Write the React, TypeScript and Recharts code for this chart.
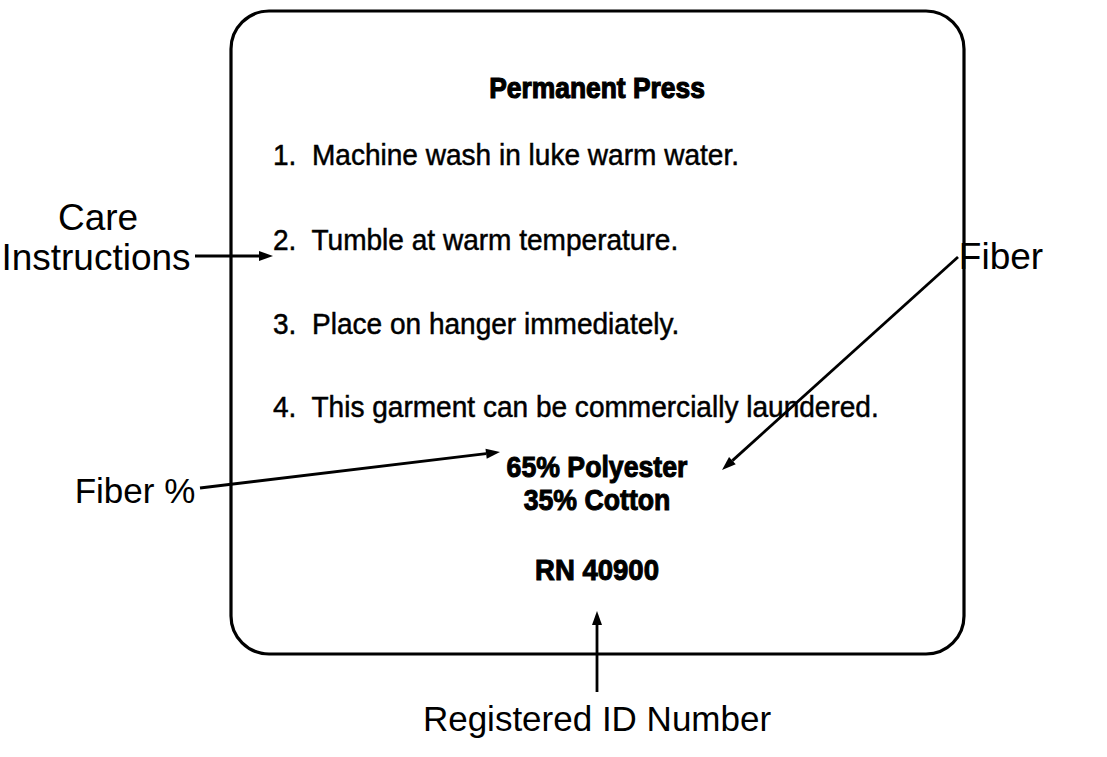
import React from 'react';
import {
  ScatterChart,
  Scatter,
  XAxis,
  YAxis,
  ReferenceLine,
  ReferenceArea,
} from 'recharts';

// label content
const titleText = ['Permanent Press'];
const careSteps = [
  '1.  Machine wash in luke warm water.',
  '2.  Tumble at warm temperature.',
  '3.  Place on hanger immediately.',
  '4.  This garment can be commercially laundered.',
];
const fiberContent = ['65% Polyester', '35% Cotton'];
const registeredId = ['RN 40900'];
const upperCallouts = ['Care', 'Instructions', 'Fiber'];
const lowerCallouts = ['Fiber %', 'Registered ID Number'];

// where things sit on the page (diagram units = pixels)
const titleRows = [87];
const stepX = 273;
const stepRows = [155, 240, 324, 407];
const centerX = 597;
const fiberRows = [467, 500];
const idRows = [570];
const upperX = [98, 96, 1001];
const upperY = [217, 257, 256];
const lowerX = [135, 597];
const lowerY = [490, 718];

// arrows: [x1, y1, x2, y2]
const arrowSegments = [
  [195, 256, 273, 256],
  [958, 257, 722, 470],
  [200, 488, 500, 452],
  [597, 692, 597, 611],
];
const labelBox = [231, 11, 964, 654];

const W = 1107;
const H = 757;

const SANS = '"Liberation Sans", Arial, Helvetica, sans-serif';

const titleData = titleText.map((t, i) => ({ x: centerX, y: titleRows[i], t }));
const stepData = careSteps.map((t, i) => ({ x: stepX, y: stepRows[i], t }));
const fiberData = fiberContent.map((t, i) => ({ x: centerX, y: fiberRows[i], t }));
const idData = registeredId.map((t, i) => ({ x: centerX, y: idRows[i], t }));
const upperData = upperCallouts.map((t, i) => ({ x: upperX[i], y: upperY[i], t }));
const lowerData = lowerCallouts.map((t, i) => ({ x: lowerX[i], y: lowerY[i], t }));

// condensed look: draw taller and squeeze horizontally
const makeText =
  (anchor: string, size: number, weight: number | string, sx: number, thicken: number) =>
  (props: any) => (
    <g transform={`translate(${props.cx},${props.cy}) scale(${sx},1)`}>
      <text
        x={0}
        y={0}
        textAnchor={anchor}
        dominantBaseline="central"
        fontFamily={SANS}
        fontSize={size}
        fontWeight={weight}
        fill="#000"
        stroke={thicken > 0 ? '#000' : 'none'}
        strokeWidth={thicken}
        style={{ whiteSpace: 'pre' }}
      >
        {props.payload.t}
      </text>
    </g>
  );

const Arrow = (props: any) => {
  const { x1, y1, x2, y2 } = props;
  const ang = Math.atan2(y2 - y1, x2 - x1);
  const len = 14;
  const half = 5;
  const bx = x2 - len * Math.cos(ang);
  const by = y2 - len * Math.sin(ang);
  const px = -Math.sin(ang) * half;
  const py = Math.cos(ang) * half;
  return (
    <g>
      <line x1={x1} y1={y1} x2={bx} y2={by} stroke="#000" strokeWidth={2.8} />
      <polygon
        points={`${x2},${y2} ${bx + px},${by + py} ${bx - px},${by - py}`}
        fill="#000"
      />
    </g>
  );
};

const RoundBox = (props: any) => {
  const { x, y, width, height } = props;
  return (
    <rect
      x={x}
      y={y}
      width={width}
      height={height}
      rx={38}
      ry={38}
      fill="none"
      stroke="#000"
      strokeWidth={3.2}
    />
  );
};

export default function App() {
  return (
    <div style={{ position: 'absolute', left: 0, top: 0, width: W, height: H, background: '#fff' }}>
      <ScatterChart width={W} height={H} margin={{ top: 0, right: 0, bottom: 0, left: 0 }}>
        <XAxis type="number" dataKey="x" domain={[0, W]} hide allowDataOverflow />
        <YAxis type="number" dataKey="y" domain={[0, H]} hide reversed width={0} allowDataOverflow />
        <ReferenceArea
          x1={labelBox[0]}
          y1={labelBox[1]}
          x2={labelBox[2]}
          y2={labelBox[3]}
          shape={RoundBox}
        />
        {arrowSegments.map((s, i) => (
          <ReferenceLine
            key={i}
            segment={[
              { x: s[0], y: s[1] },
              { x: s[2], y: s[3] },
            ]}
            shape={Arrow}
          />
        ))}
        <Scatter data={titleData} shape={makeText('middle', 30, 700, 0.88, 1.2)} isAnimationActive={false} />
        <Scatter data={stepData} shape={makeText('start', 30, 400, 0.935, 0.5)} isAnimationActive={false} />
        <Scatter data={fiberData} shape={makeText('middle', 29, 700, 0.92, 1)} isAnimationActive={false} />
        <Scatter data={idData} shape={makeText('middle', 29, 700, 0.95, 1)} isAnimationActive={false} />
        <Scatter data={upperData} shape={makeText('middle', 37, 400, 1, 0)} isAnimationActive={false} />
        <Scatter data={lowerData} shape={makeText('middle', 35, 400, 1, 0)} isAnimationActive={false} />
      </ScatterChart>
    </div>
  );
}
